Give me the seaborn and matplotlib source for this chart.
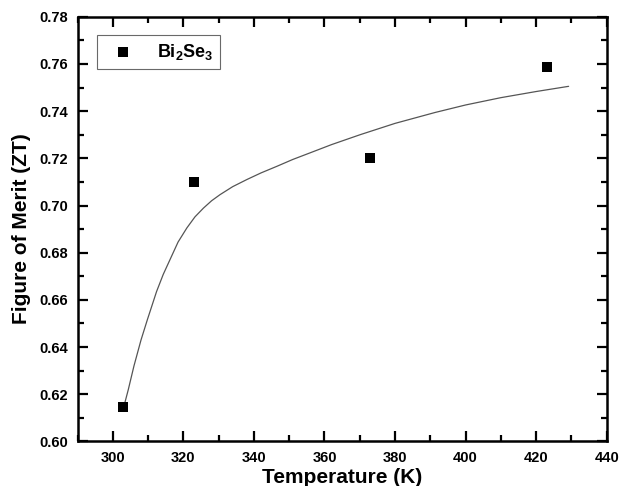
import matplotlib
matplotlib.use("Agg")
import matplotlib.pyplot as plt
import seaborn as sns
import pandas as pd
from matplotlib.ticker import MultipleLocator

# Measured data points
temperature = [303, 323, 373, 423]
zt = [0.6145, 0.710, 0.720, 0.7586]

# Fitted curve
curve_t = [303, 304.4, 306, 308, 309.8, 312.4, 314.3, 316.2, 318.5, 321.0, 323.3,
           325.7, 328.0, 330.4, 334.0, 338.0, 342.0, 346.5, 351.0, 355.9, 362.0,
           370.1, 380.0, 391.3, 400.0, 410.0, 420.0, 429.2]
curve_zt = [0.614, 0.622, 0.632, 0.643, 0.6516, 0.6635, 0.6708, 0.677, 0.6845,
            0.6905, 0.6952, 0.6989, 0.7020, 0.7046, 0.7080, 0.7110, 0.7138,
            0.7166, 0.7195, 0.7223, 0.7258, 0.7300, 0.7348, 0.7394, 0.7426,
            0.7457, 0.7483, 0.7505]

x_ticks = [300, 320, 340, 360, 380, 400, 420, 440]
y_ticks = [0.60, 0.62, 0.64, 0.66, 0.68, 0.70, 0.72, 0.74, 0.76, 0.78]

sns.set_theme(style="ticks")
plt.rcParams['font.family'] = ['Liberation Sans', 'DejaVu Sans']
plt.rcParams['mathtext.fontset'] = 'custom'
plt.rcParams['mathtext.rm'] = 'Liberation Sans'
plt.rcParams['mathtext.bf'] = 'Liberation Sans:bold'
plt.rcParams['text.color'] = 'black'
plt.rcParams['axes.labelcolor'] = 'black'
plt.rcParams['xtick.color'] = 'black'
plt.rcParams['ytick.color'] = 'black'

fig = plt.figure(figsize=(6.21, 4.86), dpi=100)
ax = fig.add_axes([0.1248, 0.0916, 0.977 - 0.1248, 0.9656 - 0.0916])

pts = pd.DataFrame({"T": temperature, "ZT": zt})
fit = pd.DataFrame({"T": curve_t, "ZT": curve_zt})

sns.lineplot(data=fit, x="T", y="ZT", sort=False, ax=ax, color="#555555",
             linewidth=0.9, zorder=2)
sns.scatterplot(data=pts, x="T", y="ZT", ax=ax, marker="s", s=55, color="black",
                edgecolor="black", linewidth=0, zorder=3,
                label=r"$\mathbf{Bi_2Se_3}$")

ax.set_xlim(290, 440)
ax.set_ylim(0.60, 0.78)
ax.set_xticks(x_ticks)
ax.set_yticks(y_ticks)
ax.set_xticklabels([str(v) for v in x_ticks])
ax.set_yticklabels([f"{v:.2f}" for v in y_ticks])
ax.xaxis.set_minor_locator(MultipleLocator(10))
ax.yaxis.set_minor_locator(MultipleLocator(0.01))

ax.tick_params(which="both", direction="in", top=True, right=True, width=1.6,
               colors="black")
ax.tick_params(which="major", length=7, labelsize=10.5, pad=7)
ax.tick_params(which="minor", length=4)
for lab in ax.get_xticklabels() + ax.get_yticklabels():
    lab.set_fontweight("bold")
for sp in ax.spines.values():
    sp.set_linewidth(1.8)
    sp.set_color("black")

ax.set_xlabel("Temperature (K)", fontsize=15, fontweight="bold", labelpad=2)
ax.set_ylabel("Figure of Merit (ZT)", fontsize=15, fontweight="bold", labelpad=6)

leg = ax.legend(loc="upper left", bbox_to_anchor=(0.037, 0.957), fontsize=13,
                frameon=True, fancybox=False, edgecolor="#444444",
                handletextpad=0.8, handlelength=2.1, borderpad=0.4,
                borderaxespad=0.0, markerscale=1.0)
leg.get_frame().set_linewidth(0.8)

fig.savefig("out.png", dpi=100)
